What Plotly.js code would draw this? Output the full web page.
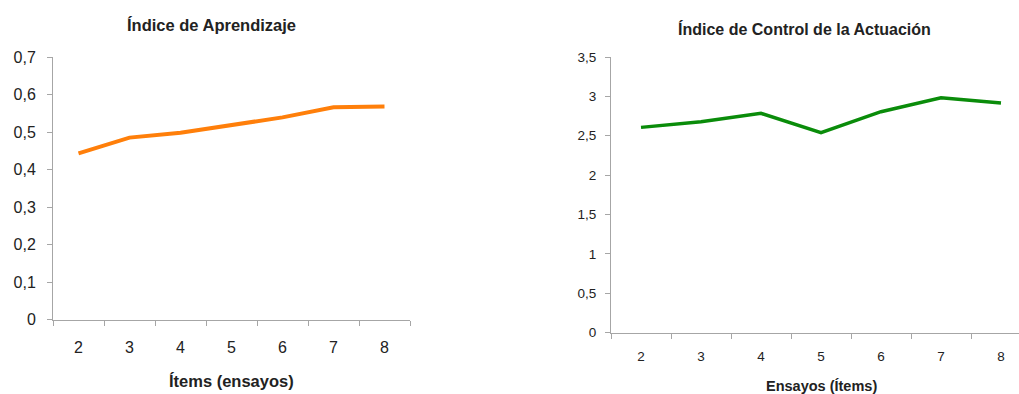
<!DOCTYPE html>
<html>
<head>
<meta charset="utf-8">
<script src="https://cdn.plot.ly/plotly-3.0.1.min.js"></script>
<style>html,body{margin:0;padding:0;background:#fff;}#chart{width:1019px;height:394px;}</style>
</head>
<body>
<div id="chart"></div>
<script>
const categories = ["2", "3", "4", "5", "6", "7", "8"];
const aprendizaje = [0.443, 0.485, 0.498, 0.519, 0.539, 0.566, 0.568];
const control = [2.606, 2.678, 2.784, 2.538, 2.805, 2.983, 2.915];
const leftYTicks = [0, 0.1, 0.2, 0.3, 0.4, 0.5, 0.6, 0.7];
const leftYText = ["0", "0,1", "0,2", "0,3", "0,4", "0,5", "0,6", "0,7"];
const rightYTicks = [0, 0.5, 1, 1.5, 2, 2.5, 3, 3.5];
const rightYText = ["0", "0,5", "1", "1,5", "2", "2,5", "3", "3,5"];
const titleLeft = "Índice de Aprendizaje";
const titleRight = "Índice de Control de la Actuación";
const xTitleLeft = "Ítems (ensayos)";
const xTitleRight = "Ensayos (Ítems)";

const W = 1019, H = 394;
const px = v => v / W;
const py = v => (H - v) / H;
const font = "Liberation Sans, Arial, sans-serif";
const axisCol = "#a6a6a6";

const traces = [
  {x: categories, y: aprendizaje, type: "scatter", mode: "lines",
   line: {color: "#ff7f0a", width: 4}, xaxis: "x", yaxis: "y", hoverinfo: "skip"},
  {x: categories, y: control, type: "scatter", mode: "lines",
   line: {color: "#0a8c0a", width: 3.5}, xaxis: "x2", yaxis: "y2", hoverinfo: "skip"}
];

const xCommon = {
  type: "category", showgrid: false, zeroline: false, showline: true,
  linecolor: axisCol, linewidth: 1, ticks: "outside", tickson: "boundaries",
  ticklen: 5, tickcolor: axisCol, fixedrange: true
};
const yCommon = {
  showgrid: false, zeroline: false, showline: true, linecolor: axisCol,
  linewidth: 1, ticks: "outside", ticklen: 5, tickcolor: axisCol, fixedrange: true
};

const layout = {
  width: W, height: H,
  margin: {l: 0, r: 0, t: 0, b: 0},
  paper_bgcolor: "#fff", plot_bgcolor: "#fff",
  showlegend: false,
  font: {family: font, color: "#222"},
  xaxis: Object.assign({}, xCommon, {
    domain: [px(53), px(410)], anchor: "y", range: [-0.5, 6.5],
    tickfont: {size: 16, color: "#222", family: font}, ticklabelstandoff: 13
  }),
  yaxis: Object.assign({}, yCommon, {
    domain: [py(319.5), py(57)], anchor: "x", range: [0, 0.7],
    tickvals: leftYTicks, ticktext: leftYText,
    tickfont: {size: 16, color: "#222", family: font}, ticklabelstandoff: 8
  }),
  xaxis2: Object.assign({}, xCommon, {
    domain: [px(611), 1], anchor: "y2", range: [-0.5, 6.3],
    tickfont: {size: 13.5, color: "#222", family: font}, ticklabelstandoff: 11
  }),
  yaxis2: Object.assign({}, yCommon, {
    domain: [py(332.5), py(57)], anchor: "x2", range: [0, 3.5],
    tickvals: rightYTicks, ticktext: rightYText,
    tickfont: {size: 13.5, color: "#222", family: font}, ticklabelstandoff: 6
  }),
  annotations: [
    {text: "<b>" + titleLeft + "</b>", xref: "paper", yref: "paper", x: px(211), y: py(25),
     showarrow: false, xanchor: "center", yanchor: "middle", font: {size: 16.5, color: "#222", family: font}},
    {text: "<b>" + titleRight + "</b>", xref: "paper", yref: "paper", x: px(804), y: py(29),
     showarrow: false, xanchor: "center", yanchor: "middle", font: {size: 16, color: "#222", family: font}},
    {text: "<b>" + xTitleLeft + "</b>", xref: "paper", yref: "paper", x: px(231), y: py(381),
     showarrow: false, xanchor: "center", yanchor: "middle", font: {size: 16.5, color: "#222", family: font}},
    {text: "<b>" + xTitleRight + "</b>", xref: "paper", yref: "paper", x: px(821), y: py(386),
     showarrow: false, xanchor: "center", yanchor: "middle", font: {size: 14.5, color: "#222", family: font}}
  ]
};

Plotly.newPlot("chart", traces, layout, {staticPlot: true, displayModeBar: false});
</script>
</body>
</html>
